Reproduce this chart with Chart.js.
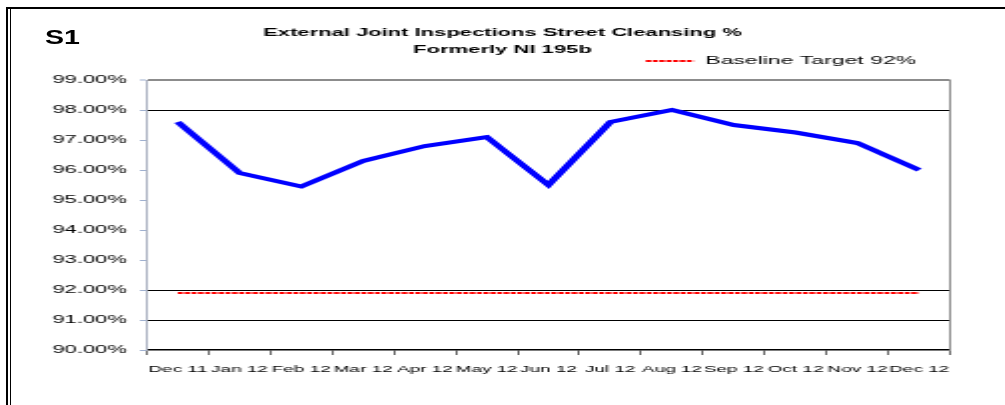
<!DOCTYPE html>
<html>
<head>
<meta charset="utf-8">
<script src="https://cdn.jsdelivr.net/npm/chart.js@4"></script>
<style>
  html, body { margin: 0; padding: 0; background: #fff; }
  #wrap { position: relative; width: 1005px; height: 405px; overflow: hidden; background: #fff; }
  .ln { position: absolute; background: #000; }
  #s1 { position: absolute; left: 45px; top: 25.5px; font: bold 21px/21px "Liberation Sans", Arial, sans-serif;
        transform: scaleX(1.36); transform-origin: 0 0; color: #000; }
</style>
</head>
<body>
<div id="wrap">
  <canvas id="c" width="503" height="405" style="position:absolute;left:0;top:0;width:1005px;height:405px;"></canvas>
  <div class="ln" style="left:6px;top:6.5px;width:2px;height:399px"></div>
  <div class="ln" style="left:10px;top:8px;width:1px;height:397px"></div>
  <div class="ln" style="left:6px;top:6.5px;width:999px;height:2px"></div>
  <div id="s1">S1</div>
</div>
<script>
const categories = ['Dec 11', 'Jan 12', 'Feb 12', 'Mar 12', 'Apr 12', 'May 12', 'Jun 12',
                    'Jul 12', 'Aug 12', 'Sep 12', 'Oct 12', 'Nov 12', 'Dec 12'];
const inspectionPct = [97.6, 95.9, 95.45, 96.3, 96.8, 97.1, 95.5, 97.6, 98.0, 97.5, 97.25, 96.9, 96.0];
const baselinePct = [91.9, 91.9, 91.9, 91.9, 91.9, 91.9, 91.9, 91.9, 91.9, 91.9, 91.9, 91.9, 91.9];
const yMin = 90;
const yMax = 99;
const yStep = 1;
const blackGridValues = [98, 92, 91];
const topBorderValue = 99;
const titleLines = ['External Joint Inspections Street Cleansing %', 'Formerly NI 195b'];
const baselineLabel = 'Baseline Target 92%';

Chart.defaults.font.family = '"Liberation Sans", Arial, sans-serif';
Chart.defaults.color = '#000';

new Chart(document.getElementById('c'), {
  type: 'line',
  data: {
    labels: categories,
    datasets: [
      {
        label: 'Street Cleansing %',
        data: inspectionPct,
        borderColor: '#0000ff',
        borderWidth: 4,
        pointRadius: 0,
        tension: 0,
        fill: false
      },
      {
        label: baselineLabel,
        data: baselinePct,
        borderColor: '#ff0000',
        borderWidth: 2,
        borderDash: [2.6, 0.8],
        pointRadius: 0,
        fill: false
      }
    ]
  },
  options: {
    responsive: false,
    animation: false,
    devicePixelRatio: 1,
    layout: { padding: 0 },
    plugins: {
      tooltip: { enabled: false },
      title: {
        display: true,
        text: titleLines,
        color: '#000',
        font: { size: 11, weight: 'bold', lineHeight: 1.5 },
        padding: { top: 25, bottom: -19.75 }
      },
      legend: {
        display: true,
        position: 'top',
        align: 'end',
        fullSize: false,
        labels: {
          usePointStyle: true,
          pointStyleWidth: 24,
          padding: 17,
          color: '#000',
          font: { size: 11.5 },
          generateLabels: (chart) => [{
            text: chart.data.datasets[1].label,
            fillStyle: 'rgba(0,0,0,0)',
            strokeStyle: '#ff0000',
            lineWidth: 2,
            lineDash: [2.6, 0.8],
            pointStyle: 'line',
            hidden: false,
            datasetIndex: 1,
            fontColor: '#000'
          }]
        }
      }
    },
    scales: {
      x: {
        type: 'category',
        position: 'bottom',
        offset: true,
        grid: {
          offset: true,
          drawOnChartArea: false,
          drawTicks: true,
          tickLength: 5,
          color: '#000',
          tickColor: '#000',
          tickWidth: 0.6
        },
        border: { display: true, color: '#000', width: 1.5 },
        ticks: {
          autoSkip: false,
          maxRotation: 0,
          minRotation: 0,
          padding: 9,
          color: '#000',
          font: { size: 9.5 }
        },
        afterFit: (s) => { s.height = 55; }
      },
      xTop: {
        type: 'category',
        position: 'top',
        display: true,
        grid: { display: false, drawTicks: false },
        border: { display: false },
        ticks: { display: false },
        afterFit: (s) => { s.height = 3.25; }
      },
      y: {
        type: 'linear',
        position: 'left',
        min: yMin,
        max: yMax,
        ticks: {
          stepSize: yStep,
          padding: 6.5,
          color: '#000',
          font: { size: 11 },
          callback: (v) => Number(v).toFixed(2) + '%'
        },
        grid: {
          drawTicks: true,
          tickLength: 3.5,
          tickColor: '#9fb0cf',
          tickWidth: 1,
          color: (ctx) => {
            const v = ctx.tick ? ctx.tick.value : null;
            if (v === topBorderValue) return '#8c8c8c';
            if (blackGridValues.includes(v)) return '#000';
            return 'rgba(0,0,0,0)';
          },
          lineWidth: (ctx) => (ctx.tick && ctx.tick.value === topBorderValue) ? 2 : 1
        },
        border: { display: true, color: '#aab0c0', width: 1 },
        afterFit: (s) => { s.width = 73.5; }
      },
      y2: {
        type: 'linear',
        position: 'right',
        display: true,
        ticks: { display: false },
        grid: { display: true, drawOnChartArea: false, drawTicks: false, color: 'rgba(0,0,0,0)' },
        border: { display: true, color: '#8c8c8c', width: 1 },
        afterFit: (s) => { s.width = 27.5; }
      }
    }
  }
});
</script>
</body>
</html>
